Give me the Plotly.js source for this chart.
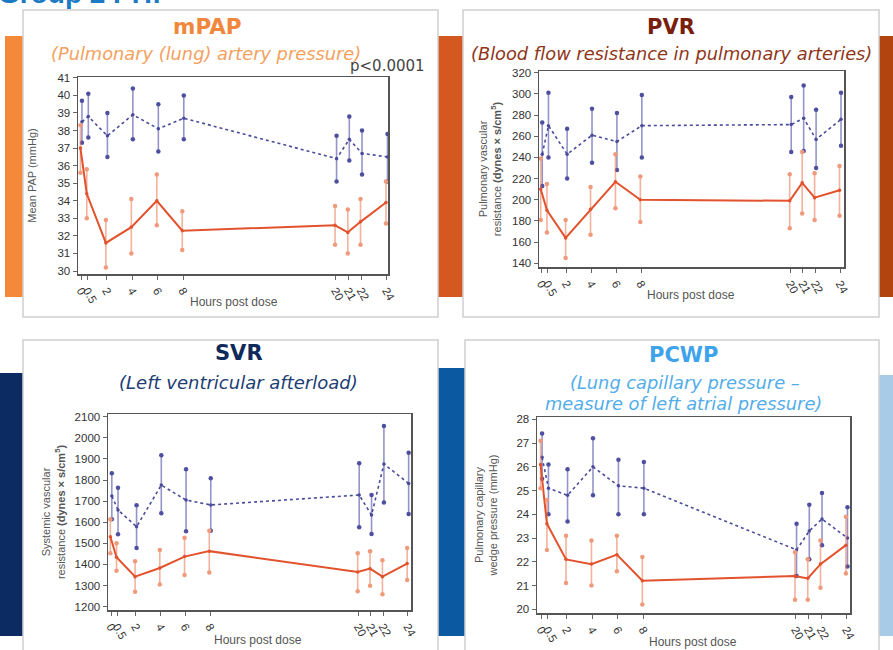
<!DOCTYPE html>
<html>
<head>
<meta charset="utf-8">
<script src="https://cdn.plot.ly/plotly-3.0.1.min.js"></script>
<style>
html,body{margin:0;padding:0;background:#fff;}
#chart{width:893px;height:650px;}
</style>
</head>
<body>
<div id="chart"></div>
<script>
// ---------- DATA ----------
const hours = [0, 0.5, 2, 4, 6, 8, 20, 21, 22, 24];
const hourLabels = ["0", "0.5", "2", "4", "6", "8", "20", "21", "22", "24"];

// mPAP (mmHg)
const mpapDrug       = [37.0, 34.4, 31.6, 32.5, 34.0, 32.3, 32.6, 32.2, 32.8, 33.9];
const mpapDrugHi     = [38.3, 35.8, 32.9, 34.1, 35.5, 33.4, 33.7, 33.5, 34.1, 35.1];
const mpapDrugLo     = [35.6, 33.0, 30.2, 31.0, 32.6, 31.2, 31.5, 31.0, 31.5, 32.7];
const mpapPlacebo    = [38.5, 38.8, 37.7, 38.9, 38.1, 38.7, 36.4, 37.5, 36.7, 36.5];
const mpapPlaceboHi  = [39.7, 40.1, 39.0, 40.4, 39.5, 40.0, 37.7, 38.8, 38.0, 37.8];
const mpapPlaceboLo  = [37.3, 37.6, 36.5, 37.5, 36.8, 37.5, 35.1, 36.3, 35.5, 35.1];

// PVR (dynes x s/cm5)
const pvrDrug        = [210, 190, 164, 191, 217, 200, 199, 216, 202, 209];
const pvrDrugHi      = [239, 215, 181, 212, 243, 222, 224, 245, 225, 232];
const pvrDrugLo      = [181, 169, 145, 167, 192, 179, 173, 187, 181, 185];
const pvrPlacebo     = [243, 270, 243, 261, 255, 270, 271, 277, 257, 276];
const pvrPlaceboHi   = [273, 301, 267, 286, 282, 299, 297, 308, 285, 301];
const pvrPlaceboLo   = [213, 240, 220, 235, 228, 240, 245, 246, 230, 251];

// SVR (dynes x s/cm5)
const svrDrug        = [1531, 1434, 1342, 1383, 1437, 1463, 1364, 1380, 1342, 1404];
const svrDrugHi      = [1614, 1500, 1415, 1468, 1527, 1560, 1453, 1462, 1420, 1478];
const svrDrugLo      = [1453, 1370, 1271, 1305, 1350, 1362, 1273, 1299, 1259, 1326];
const svrPlacebo     = [1724, 1658, 1579, 1776, 1705, 1682, 1729, 1634, 1876, 1784];
const svrPlaceboHi   = [1832, 1764, 1680, 1917, 1851, 1808, 1879, 1729, 2056, 1929];
const svrPlaceboLo   = [1614, 1543, 1478, 1642, 1557, 1560, 1576, 1544, 1693, 1639];

// PCWP (mmHg)
const pcwpDrug       = [26.1, 23.6, 22.1, 21.9, 22.3, 21.2, 21.4, 21.3, 21.9, 22.7];
const pcwpDrugHi     = [27.1, 24.6, 23.1, 22.9, 23.1, 22.2, 22.4, 22.1, 22.9, 23.9];
const pcwpDrugLo     = [25.1, 22.5, 21.1, 21.0, 21.6, 20.2, 20.4, 20.4, 20.9, 21.5];
const pcwpPlacebo    = [26.4, 25.1, 24.8, 26.0, 25.2, 25.1, 22.5, 23.3, 23.8, 23.0];
const pcwpPlaceboHi  = [27.4, 26.1, 25.9, 27.2, 26.3, 26.2, 23.6, 24.4, 24.9, 24.3];
const pcwpPlaceboLo  = [25.5, 24.0, 23.7, 24.8, 24.0, 24.0, 21.4, 22.1, 22.7, 21.8];

// ---------- LAYOUT HELPERS ----------
const W = 893, H = 650;
const px = x => x / W;
const py = y => 1 - y / H;

const RED = '#e2522c', RED_ERR = 'rgba(236,125,90,0.6)', RED_END = '#f09a7c';
const BLUE = '#4b4b9c', BLUE_ERR = 'rgba(90,90,175,0.65)', BLUE_END = '#4f4fa0';
const AXFONT = 'Liberation Sans, Arial, sans-serif';
const TICKFONT = {family: AXFONT, size: 11.5, color: '#333'};
const TITLEFONT = {family: AXFONT, size: 11, color: '#555'};

const panels = [
  {sfx: '', frame: [78, 388, 77, 274], xr: [-0.25, 24.1], yr: [29.83, 41.05], dtick: 1,
   ytitle: 'Mean PAP (mmHg)', ystand: 18, xtitlePos: [234, 302],
   drug: [mpapDrug, mpapDrugHi, mpapDrugLo], plac: [mpapPlacebo, mpapPlaceboHi, mpapPlaceboLo]},
  {sfx: '2', frame: [539, 844, 71, 267], xr: [-0.2, 24.3], yr: [136.5, 321.6], dtick: 20,
   ytitle: 'Pulmonary vascular<br>resistance <b>(dynes × s/cm<sup>5</sup>)</b>', ystand: 8, xtitlePos: [691, 295],
   drug: [pvrDrug, pvrDrugHi, pvrDrugLo], plac: [pvrPlacebo, pvrPlaceboHi, pvrPlaceboLo]},
  {sfx: '3', frame: [108, 411, 414, 610], xr: [-0.25, 24.25], yr: [1184, 2113], dtick: 100,
   ytitle: 'Systemic vascular<br>resistance <b>(dynes × s/cm<sup>5</sup>)</b>', ystand: 7, xtitlePos: [258, 640],
   drug: [svrDrug, svrDrugHi, svrDrugLo], plac: [svrPlacebo, svrPlaceboHi, svrPlaceboLo]},
  {sfx: '4', frame: [537, 850, 417, 613], xr: [-0.34, 24.26], yr: [19.84, 28.1], dtick: 1,
   ytitle: 'Pulmonary capillary<br>wedge pressure (mmHg)', ystand: 16, xtitlePos: [693, 642],
   drug: [pcwpDrug, pcwpDrugHi, pcwpDrugLo], plac: [pcwpPlacebo, pcwpPlaceboHi, pcwpPlaceboLo]}
];

const traces = [];
const layout = {
  width: W, height: H,
  margin: {l: 0, r: 0, t: 0, b: 0},
  paper_bgcolor: '#ffffff',
  plot_bgcolor: 'rgba(0,0,0,0)',
  showlegend: false,
  shapes: [],
  annotations: []
};

function addSeries(p, vals, dx, color, errColor, endColor, dash, width, name) {
  const [m, hi, lo] = vals;
  const xs = hours.map(h => h + dx);
  const xa = 'x' + p.sfx, ya = 'y' + p.sfx;
  traces.push({
    type: 'scatter', mode: 'lines+markers', name: name, xaxis: xa, yaxis: ya,
    x: xs, y: m,
    line: {color: color, width: width, dash: dash},
    marker: {color: color, size: 3.5},
    error_y: {type: 'data', symmetric: false,
      array: hi.map((v, i) => v - m[i]), arrayminus: lo.map((v, i) => m[i] - v),
      color: errColor, thickness: 1.6, width: 0},
    hoverinfo: 'x+y'
  });
  traces.push({
    type: 'scatter', mode: 'markers', name: name + ' CI', xaxis: xa, yaxis: ya,
    x: xs.concat(xs), y: hi.concat(lo),
    marker: {color: endColor, size: 4.5},
    hoverinfo: 'skip'
  });
}

const TF = 'DejaVu Sans, Verdana, sans-serif';
function ann(text, x, y, size, color, opts, family) {
  layout.annotations.push(Object.assign({text: text, xref: 'paper', yref: 'paper',
    x: px(x), y: py(y), xanchor: 'center', yanchor: 'middle', showarrow: false,
    font: {family: family || TF, size: size, color: color}}, opts || {}));
}

panels.forEach(p => {
  const [x0, x1, y0, y1] = p.frame;
  addSeries(p, p.plac, 0.06, BLUE, BLUE_ERR, BLUE_END, 'dot', 1.6, 'Placebo');
  addSeries(p, p.drug, -0.06, RED, RED_ERR, RED_END, 'solid', 2, 'Active');
  const xk = 'xaxis' + p.sfx, yk = 'yaxis' + p.sfx;
  layout[xk] = {
    domain: [px(x0), px(x1)], anchor: 'y' + p.sfx, range: p.xr,
    tickmode: 'array', tickvals: hours, ticktext: hourLabels, tickangle: 60,
    ticks: 'outside', ticklen: 4, tickcolor: '#666', tickfont: TICKFONT,
    showline: true, mirror: true, linecolor: '#555', linewidth: 1.5,
    showgrid: false, zeroline: false
  };
  layout[yk] = {
    domain: [py(y1), py(y0)], anchor: 'x' + p.sfx, range: p.yr,
    dtick: p.dtick, ticks: 'outside', ticklen: 4, tickcolor: '#666', tickfont: TICKFONT,
    showline: true, mirror: true, linecolor: '#555', linewidth: 1.5,
    showgrid: false, zeroline: false,
    title: {text: p.ytitle, font: TITLEFONT, standoff: p.ystand}
  };
  // x-axis title placed precisely below rotated tick labels
  ann('Hours post dose', p.xtitlePos[0], p.xtitlePos[1], 12, '#555', {}, AXFONT);
});

// side colour bars
const bars = [
  [5, 23, 36, 297, '#f5893a'],
  [438, 463, 36, 297, '#d4581f'],
  [879, 893, 36, 297, '#b1440f'],
  [0, 23, 373, 636, '#0c2b62'],
  [438, 465, 368, 636, '#0b5aa1'],
  [879, 893, 375, 636, '#a8cce8']
];
bars.forEach(b => layout.shapes.push({type: 'rect', xref: 'paper', yref: 'paper', layer: 'below',
  x0: px(b[0]), x1: px(b[1]), y0: py(b[3]), y1: py(b[2]), fillcolor: b[4], line: {width: 0}}));

// white panels
const cards = [[23, 438, 10, 317], [463, 879, 10, 317], [23, 438, 340, 662], [465, 879, 340, 662]];
cards.forEach(c => layout.shapes.push({type: 'rect', xref: 'paper', yref: 'paper', layer: 'below',
  x0: px(c[0]), x1: px(c[1]), y0: py(c[3]), y1: py(c[2]), fillcolor: '#ffffff',
  line: {color: '#cfcfcf', width: 1.5}}));

// titles (page heading is cropped by the top edge, as in the source slide)
ann('<b>Group 2 PH:</b>', -4, 11, 28, '#1c79c3', {xanchor: 'left', yanchor: 'bottom'}, AXFONT);

ann('<b>mPAP</b>', 207, 27, 21.5, '#f0873c');
ann('<i>(Pulmonary (lung) artery pressure)</i>', 206, 53, 17.8, '#f4a15e');
ann('p<0.0001', 427, 66, 15, '#444', {xanchor: 'right'});

ann('<b>PVR</b>', 671, 27, 21, '#7a1e0c');
ann('<i>(Blood flow resistance in pulmonary arteries)</i>', 671, 53, 17.8, '#8f3518');

ann('<b>SVR</b>', 239, 353, 21, '#0f2a5a');
ann('<i>(Left ventricular afterload)</i>', 238, 382, 18, '#213d72');

ann('<b>PCWP</b>', 683, 355, 21, '#3ea3ea');
ann('<i>(Lung capillary pressure –</i>', 685, 382, 17.8, '#52ade9');
ann('<i>measure of left atrial pressure)</i>', 683, 404, 17.8, '#52ade9');

Plotly.newPlot('chart', traces, layout, {displayModeBar: false, staticPlot: true});
</script>
</body>
</html>
